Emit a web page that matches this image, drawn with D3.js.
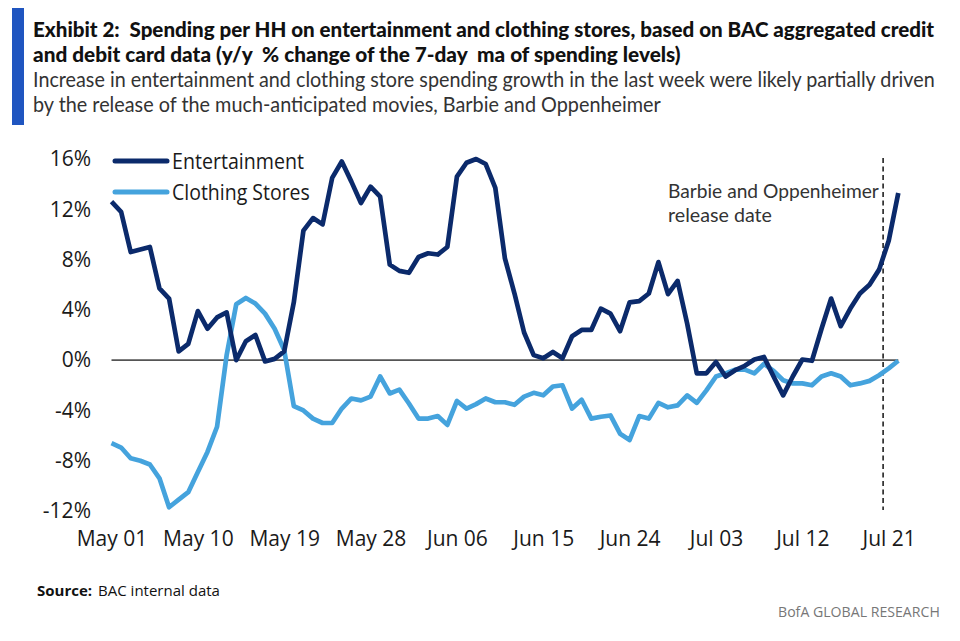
<!DOCTYPE html>
<html lang="en">
<head>
<meta charset="UTF-8">
<title>Exhibit 2: Spending per HH on entertainment and clothing stores</title>
<script src="https://d3js.org/d3.v7.min.js"></script>
<style>
  body { margin: 0; background: #fff; }
  svg { display: block; font-family: "Open Sans", sans-serif; }
  .tick text { fill: #1a1a1a; }
</style>
</head>
<body>
<svg id="chart" width="960" height="641"></svg>
<script>
// daily values, May 01 -> Jul 22 (y/y % change of 7-day ma)
const startDate = new Date(2023, 4, 1);
const entertainment = [
  12.6, 11.8, 8.6, 8.8, 9.0, 5.7, 4.9, 0.7, 1.3, 3.9,
  2.5, 3.4, 3.8, 0.0, 1.5, 2.0, -0.1, 0.1, 0.7, 4.6,
  10.3, 11.3, 10.8, 14.5, 15.8, 14.2, 12.5, 13.8, 13.0, 7.6,
  7.1, 6.95, 8.2, 8.5, 8.4, 9.0, 14.6, 15.7, 16.0, 15.6,
  13.7, 8.1, 5.3, 2.2, 0.4, 0.15, 0.65, 0.15, 1.9, 2.4,
  2.4, 4.1, 3.7, 2.3, 4.6, 4.7, 5.3, 7.8, 5.25, 6.3,
  2.9, -1.05, -1.05, -0.15, -1.3, -0.8, -0.45, 0.05, 0.25, -1.3,
  -2.8, -1.3, 0.05, -0.05, 2.5, 4.9, 2.7, 4.1, 5.3, 6.0,
  7.2, 9.5, 13.3
];
const clothing = [
  -6.6, -6.95, -7.8, -8.0, -8.3, -9.4, -11.7, -11.1, -10.5, -8.9,
  -7.3, -5.3, 0.4, 4.45, 4.95, 4.5, 3.7, 2.5, 0.8, -3.65,
  -4.0, -4.65, -5.0, -5.0, -3.85, -3.05, -3.2, -2.9, -1.3, -2.65,
  -2.35, -3.45, -4.65, -4.65, -4.45, -5.15, -3.25, -3.85, -3.5, -3.05,
  -3.35, -3.35, -3.55, -2.9, -2.6, -2.8, -2.1, -2.0, -3.85, -3.15,
  -4.65, -4.5, -4.4, -5.85, -6.35, -4.45, -4.65, -3.4, -3.75, -3.6,
  -2.8, -3.4, -2.4, -1.3, -1.05, -0.75, -0.75, -1.05, -0.3, -0.85,
  -1.6, -1.85, -1.85, -2.0, -1.3, -1.05, -1.3, -2.0, -1.85, -1.65,
  -1.2, -0.65, -0.05
];
const yTicks = [-12, -8, -4, 0, 4, 8, 12, 16];
const xTickLabels = ["May 01", "May 10", "May 19", "May 28", "Jun 06",
                     "Jun 15", "Jun 24", "Jul 03", "Jul 12", "Jul 21"];
const releaseMarker = new Date(2023, 6, 20, 10);

const seriesNames = ["Entertainment", "Clothing Stores"];
const seriesColors = ["#0b2a6b", "#45a3dd"];

const dates = entertainment.map((_, i) => d3.timeDay.offset(startDate, i));
const series = [entertainment, clothing].map((vals, k) => ({
  name: seriesNames[k],
  color: seriesColors[k],
  points: vals.map((v, i) => ({ date: dates[i], value: v }))
}));

const svg = d3.select("#chart");

const x = d3.scaleTime()
  .domain([dates[0], dates[dates.length - 1]])
  .range([111.5, 898.3]);
const y = d3.scaleLinear().domain([-12, 16]).range([511, 159]);

// squeeze a text horizontally so it spans w pixels (the original font is condensed)
function fitText(sel, px, py, w) {
  sel.attr("x", 0).attr("y", 0);
  const len = sel.node().getComputedTextLength();
  sel.attr("transform", `translate(${px},${py}) scale(${w / len},1)`);
  return sel;
}

// header
svg.append("rect").attr("x", 12).attr("y", 8).attr("width", 12).attr("height", 117)
  .attr("fill", "#1f55c0");

const header = [
  { t: "Exhibit 2:  Spending per HH on entertainment and clothing stores, based on BAC aggregated credit", y: 37, w: 902, bold: true },
  { t: "and debit card data (y/y  % change of the 7-day  ma of spending levels)", y: 62, w: 648, bold: true },
  { t: "Increase in entertainment and clothing store spending growth in the last week were likely partially driven", y: 87, w: 902, bold: false },
  { t: "by the release of the much-anticipated movies, Barbie and Oppenheimer", y: 112, w: 628, bold: false }
];
header.forEach(d => {
  const t = svg.append("text")
    .attr("font-family", "Lato")
    .attr("font-size", 20.5)
    .attr("font-weight", d.bold ? 900 : 400)
    .attr("fill", d.bold ? "#111" : "#333")
    .style("white-space", "pre")
    .text(d.t);
  fitText(t, 33, d.y, d.w);
});

// y axis labels
const yAxis = svg.append("g")
  .attr("transform", "translate(91,0)")
  .call(d3.axisLeft(y).tickValues(yTicks).tickSize(0).tickPadding(0)
    .tickFormat(d => d + "%"));
yAxis.select(".domain").remove();
yAxis.selectAll("text").attr("font-family", "Open Sans").attr("font-size", 21);

// x axis labels
const parseTick = d3.timeParse("%b %d %Y");
const xAxis = svg.append("g")
  .attr("transform", "translate(0,531)")
  .call(d3.axisBottom(x)
    .tickValues(xTickLabels.map(s => parseTick(s + " 2023")))
    .tickSize(0).tickPadding(0)
    .tickFormat(d3.timeFormat("%b %d")));
xAxis.select(".domain").remove();
xAxis.selectAll("text").attr("font-family", "Open Sans").attr("font-size", 21);

// zero line
svg.append("line")
  .attr("x1", x.range()[0]).attr("x2", x.range()[1])
  .attr("y1", y(0)).attr("y2", y(0))
  .attr("stroke", "#555").attr("stroke-width", 1.6);

// release marker
svg.append("line")
  .attr("x1", x(releaseMarker)).attr("x2", x(releaseMarker))
  .attr("y1", 158).attr("y2", 510)
  .attr("stroke", "#222").attr("stroke-width", 1.6)
  .attr("stroke-dasharray", "5,3.5");

["Barbie and Oppenheimer", "release date"].forEach((s, i) => {
  fitText(svg.append("text").attr("font-family", "Lato").attr("font-size", 19.5)
    .attr("fill", "#333").text(s), 668, 198 + i * 24, i === 0 ? 211 : 104);
});

// lines
const line = d3.line().x(d => x(d.date)).y(d => y(d.value));
svg.selectAll("path.series").data(series.slice().reverse()).join("path")
  .attr("class", "series")
  .attr("d", d => line(d.points))
  .attr("fill", "none")
  .attr("stroke", d => d.color)
  .attr("stroke-width", 4.7)
  .attr("stroke-linejoin", "round");

// legend
series.forEach((d, i) => {
  const ly = 161 + i * 31;
  svg.append("line")
    .attr("x1", 115).attr("x2", 167).attr("y1", ly).attr("y2", ly)
    .attr("stroke", d.color).attr("stroke-width", 5).attr("stroke-linecap", "round");
  fitText(svg.append("text").attr("dy", "0.36em")
    .attr("font-size", 22).attr("fill", "#1a1a1a").text(d.name),
    172, ly, i === 0 ? 132 : 138);
});

// footer
const src = svg.append("text").attr("x", 37).attr("y", 596).attr("font-size", 15).attr("fill", "#111");
src.append("tspan").attr("font-weight", 700).text("Source:");
src.append("tspan").attr("dx", 6).text("BAC internal data");

const brand = svg.append("text")
  .attr("font-size", 15).attr("fill", "#777")
  .text("BofA GLOBAL RESEARCH");
fitText(brand, 778, 617, 162);
</script>
</body>
</html>
